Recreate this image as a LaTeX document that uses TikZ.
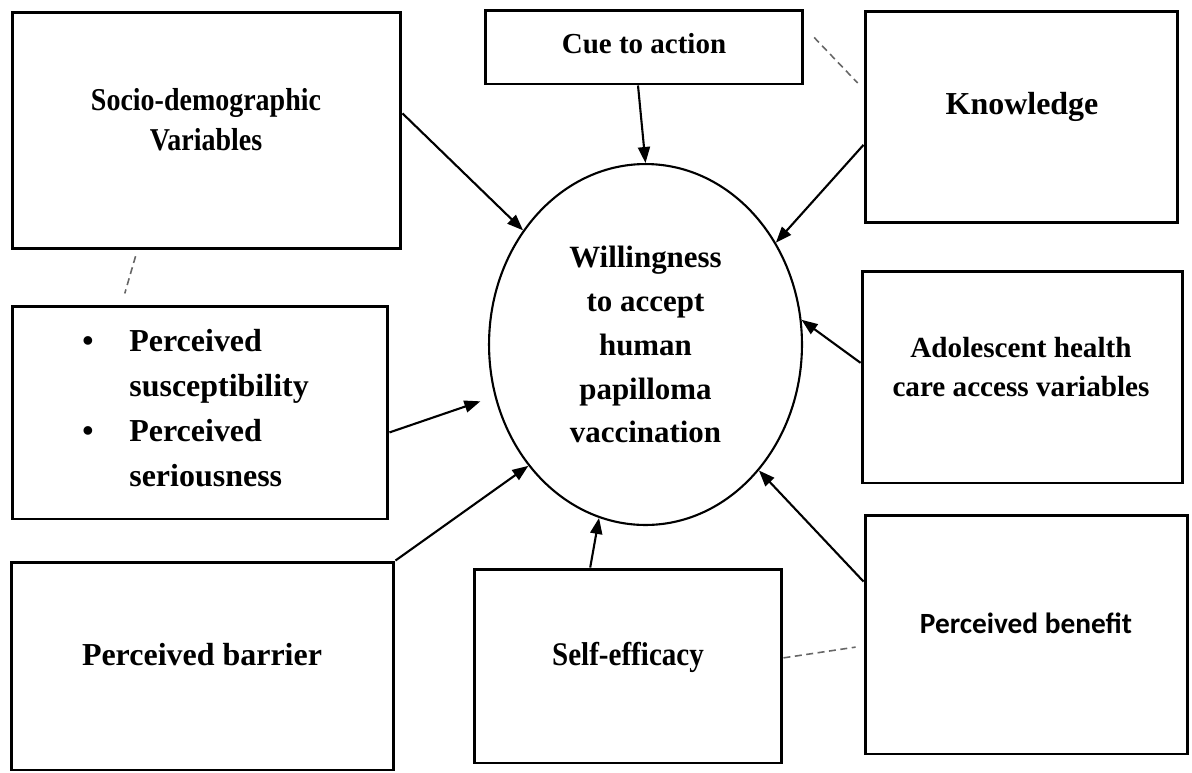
\documentclass[tikz,border=0pt]{standalone}
\usepackage{fontspec}
\setmainfont{Liberation Serif}
\newfontfamily\narrowfont[FakeStretch=0.88]{Liberation Serif}
\newfontfamily\benfont{Carlito}
\usetikzlibrary{shapes.geometric,arrows.meta}

\begin{document}
\begin{tikzpicture}[x=0.02cm, y=-0.02cm,
    box/.style={draw, line width=1.7pt, inner sep=0pt},
    txt/.style={align=center, font=\bfseries, inner sep=0pt},
    arr/.style={-{Triangle[length=0.32cm, width=0.24cm]}, line width=1.2pt},
    link/.style={dashgray, line width=0.9pt, dash pattern=on 0.14cm off 0.09cm}]
	\definecolor{dashgray}{gray}{0.4}

    \useasboundingbox (0,0) rectangle (1192,772);

    % Draw boxes
    \node[box, minimum width=7.78cm, minimum height=4.74cm] (socio) at (206.5,130.5) {};
    \node[box, minimum width=6.36cm, minimum height=1.48cm] (cue) at (644,47) {};
    \node[box, minimum width=6.26cm, minimum height=4.24cm] (know) at (1021.5,117) {};
    \node[box, minimum width=7.52cm, minimum height=4.26cm] (susc) at (200,412.5) {};
    \node[box, minimum width=6.42cm, minimum height=4.24cm] (adol) at (1022.5,377) {};
    \node[box, minimum width=7.66cm, minimum height=4.16cm] (bar) at (202.5,666) {};
    \node[box, minimum width=6.16cm, minimum height=3.88cm] (self) at (628,666) {};
    \node[box, minimum width=6.46cm, minimum height=4.78cm] (ben) at (1026.5,634.5) {};

    % Draw the outcome
    \node[draw, ellipse, line width=1.2pt, inner sep=0pt, minimum width=6.26cm, minimum height=7.22cm,
          align=center, font=\fontsize{17.6}{25}\selectfont\bfseries] (will) at (645.5,344.5)
          {Willingness\\to accept\\human\\papilloma\\vaccination};

    % Box texts
    \node[txt, font=\narrowfont\fontsize{18.1}{22.8}\selectfont\bfseries] (socioT) at (206,120) {Socio-demographic\\Variables};
    \node[txt, font=\fontsize{16.5}{20}\selectfont\bfseries] (cueT) at (644,44) {Cue to action};
    \node[txt, font=\fontsize{18.2}{22}\selectfont\bfseries] (knowT) at (1022,107) {Knowledge};
    \node[txt, anchor=west, align=left, font=\fontsize{18.2}{25.6}\selectfont\bfseries] (suscT) at (82,410)
          {\begin{tabular}{@{}p{0.94cm}@{}l@{}}\textbullet & Perceived\\ & susceptibility\\ \textbullet & Perceived\\ & seriousness\end{tabular}};
    \node[txt, font=\fontsize{16.6}{22.2}\selectfont\bfseries] (adolT) at (1021,367) {Adolescent health\\care access variables};
    \node[txt, font=\fontsize{18.2}{22}\selectfont\bfseries] (barT) at (202,655) {Perceived barrier};
    \node[txt, font=\narrowfont\fontsize{18.8}{22}\selectfont\bfseries] (selfT) at (628,657) {Self-efficacy};
    \node[txt, font=\benfont\fontsize{16.7}{20}\selectfont\bfseries] (benT) at (1026,623) {Perceived benefit};

    \draw[arr] (socio.5) -- (will.137);
    \draw[arr] ([xshift=-0.12cm]cue.south) -- (will.north);
    \draw[arr] (know.190) -- (will.38);
    \draw[arr] (adol.175) -- (will.9);
    \draw[arr, shorten >=0.3cm] (susc.354) -- (will.199);
    \draw[arr] (bar.north east) -- (will.226);
    \draw[arr] (self.111) -- (will.255);
    \draw[arr] (ben.162) -- (will.312);

    \draw[link, shorten <=0.12cm, shorten >=0.23cm] (socio.240) -- (susc.126);
    \draw[link, shorten <=0.28cm, shorten >=0.17cm] (cue.7) -- (know.170);
    \draw[link, shorten >=0.16cm] (self.3) -- (ben.184);
\end{tikzpicture}
\end{document}
